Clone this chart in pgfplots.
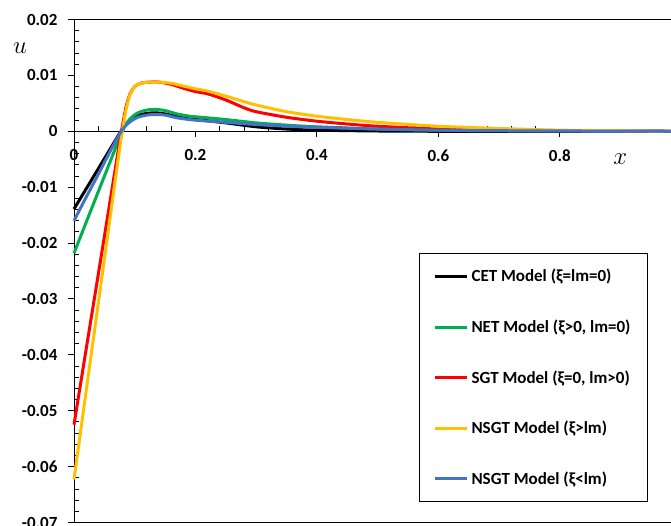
\documentclass[border=0pt]{standalone}
\usepackage{fontspec}
\setmainfont{Carlito}
\usepackage{pgfplots}
\pgfplotsset{compat=1.18}

\definecolor{cet}{RGB}{0,0,0}
\definecolor{net}{RGB}{0,176,80}
\definecolor{sgt}{RGB}{255,0,0}
\definecolor{nsgta}{RGB}{255,192,0}
\definecolor{nsgtb}{RGB}{68,114,196}

\begin{document}
\begin{tikzpicture}
\begin{axis}[
  scale only axis, width=597pt, height=503pt,
  xmin=0, xmax=0.983, ymin=-0.07, ymax=0.02,
  axis x line*=middle, axis y line*=left,
  hide obscured x ticks=false, hide obscured y ticks=false,
  axis line style={black, line width=0.9pt},
  xtick={0,0.2,0.4,0.6,0.8}, ytick={-0.07,-0.06,...,0.02},
  minor x tick num=4, minor y tick num=4,
  tick align=inside, major tick length=-5.5pt, minor tick length=5.5pt,
  tick style={black, line width=0.9pt},
  scaled ticks=false,
  /pgf/number format/assume math mode=true,
  ticklabel style={font=\bfseries\fontsize{17}{20}\selectfont},
  xticklabel style={/pgf/number format/fixed, /pgf/number format/precision=1, yshift=-15pt},
  yticklabel style={/pgf/number format/fixed, /pgf/number format/precision=2, xshift=-13pt},
  clip=false,
  legend cell align=left,
  legend image code/.code={\draw[#1, line width=3pt] (0pt,0pt) -- (32pt,0pt);},
  legend style={at={(rel axis cs:0.578,0.536)}, anchor=north west,
    draw=black, line width=0.9pt, fill=white,
    font=\bfseries\fontsize{17}{20}\selectfont,
    inner xsep=14pt, inner ysep=13pt, row sep=30.5pt,
    nodes={inner sep=3pt}},
  every axis plot/.append style={line width=3pt, smooth, tension=0.45},
]
\addplot[cet] coordinates {(0,-0.0139) (0.02,-0.0103) (0.04,-0.0067) (0.06,-0.0031)
 (0.075,-0.0004) (0.085,0.0011) (0.095,0.0021) (0.105,0.0028) (0.12,0.0032)
 (0.135,0.0033) (0.15,0.0031) (0.17,0.0026) (0.19,0.0022) (0.21,0.0020)
 (0.25,0.0015) (0.3,0.0008) (0.35,0.0004) (0.4,0.0002) (0.5,0.00005)
 (0.6,0) (0.8,0) (0.983,0)};
\addlegendentry{CET Model (ξ=lm=0)}
\addplot[net] coordinates {(0,-0.0218) (0.02,-0.0163) (0.04,-0.0108) (0.06,-0.0053)
 (0.075,-0.0012) (0.085,0.0012) (0.095,0.0025) (0.105,0.0033) (0.12,0.0038)
 (0.135,0.0039) (0.15,0.0037) (0.17,0.0031) (0.19,0.0027) (0.21,0.0025)
 (0.25,0.0021) (0.3,0.0015) (0.35,0.0011) (0.4,0.0008) (0.5,0.0004)
 (0.6,0.0002) (0.7,0.0001) (0.983,0)};
\addlegendentry{NET Model (ξ>0, lm=0)}
\addplot[sgt] coordinates {(0,-0.0525) (0.02,-0.0390) (0.04,-0.0256) (0.06,-0.0121)
 (0.075,-0.0020) (0.085,0.0040) (0.092,0.0066) (0.1,0.0080) (0.11,0.0086)
 (0.125,0.0088) (0.14,0.0088) (0.16,0.0084) (0.18,0.0077) (0.2,0.0071)
 (0.22,0.0067) (0.25,0.0056) (0.28,0.0042) (0.3,0.0035) (0.35,0.0025)
 (0.4,0.0018) (0.45,0.0013) (0.5,0.0009) (0.6,0.0004) (0.7,0.0002)
 (0.8,0.0001) (0.983,0)};
\addlegendentry{SGT Model (ξ=0, lm>0)}
\addplot[nsgta] coordinates {(0,-0.0623) (0.02,-0.0465) (0.04,-0.0308) (0.06,-0.0150)
 (0.075,-0.0032) (0.085,0.0035) (0.092,0.0065) (0.1,0.0080) (0.11,0.0086)
 (0.125,0.0088) (0.14,0.0088) (0.16,0.0086) (0.18,0.0081) (0.2,0.0076)
 (0.22,0.0072) (0.25,0.0063) (0.28,0.0053) (0.3,0.0047) (0.35,0.0035)
 (0.4,0.0027) (0.45,0.0021) (0.5,0.0016) (0.6,0.0009) (0.7,0.0005)
 (0.8,0.0002) (0.9,0.0001) (0.983,0)};
\addlegendentry{NSGT Model (ξ>lm)}
\addplot[nsgtb] coordinates {(0,-0.0160) (0.02,-0.0118) (0.04,-0.0077) (0.06,-0.0035)
 (0.075,-0.0005) (0.085,0.0010) (0.095,0.0019) (0.105,0.0025) (0.12,0.0029)
 (0.135,0.0030) (0.15,0.0029) (0.17,0.0024) (0.19,0.0021) (0.21,0.0019)
 (0.25,0.0016) (0.3,0.0012) (0.35,0.0009) (0.4,0.0007) (0.5,0.0004)
 (0.6,0.0002) (0.7,0.0001) (0.983,0)};
\addlegendentry{NSGT Model (ξ<lm)}

% frame lines at top and bottom of the plot area
\draw[black, line width=0.9pt] (rel axis cs:0,1) -- (rel axis cs:1,1);
\draw[black, line width=1.2pt] (rel axis cs:0,0) -- (rel axis cs:1,0);
\node[font=\fontsize{36}{36}\selectfont] at (axis cs:-0.089,0.0148) {$u$};
\node[font=\fontsize{36}{36}\selectfont] at (axis cs:0.8995,-0.0050) {$x$};
\end{axis}
\pgfresetboundingbox
\path ([xshift=-74pt,yshift=-3.5pt]current axis.south west)
  rectangle ([yshift=19.5pt]current axis.north east);
\end{tikzpicture}
\end{document}
